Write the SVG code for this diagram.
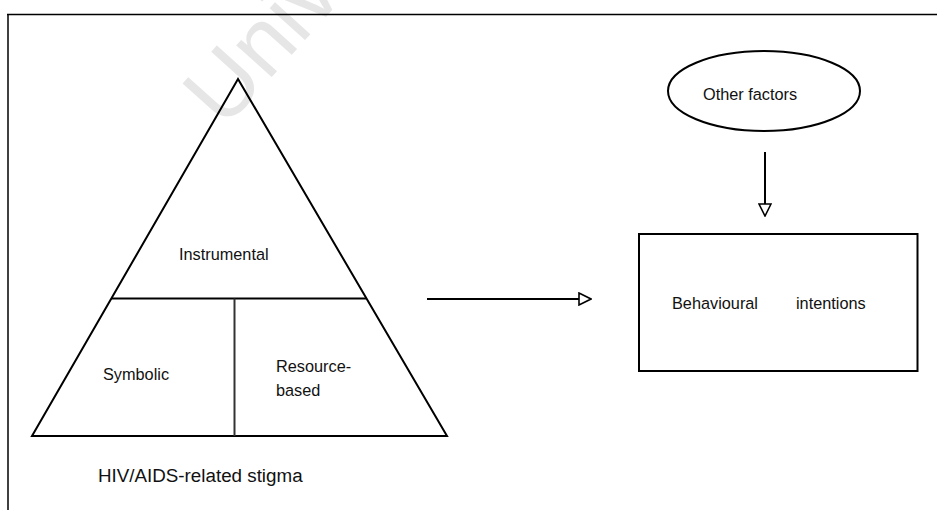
<svg xmlns="http://www.w3.org/2000/svg" width="937" height="510" viewBox="0 0 937 510">
<style>
  .ln { stroke: #000; stroke-width: 2; fill: none; }
  .dv { stroke: #333; stroke-width: 2; fill: none; }
  .frame { stroke: #000; stroke-width: 1.5; fill: none; }
  .lbl { font-family: "Liberation Sans", Arial, sans-serif; font-size: 16.3px; fill: #111; }
  .cap { font-family: "Liberation Sans", Arial, sans-serif; font-size: 18.8px; fill: #111; }
  .wm { font-family: "Liberation Sans", Arial, sans-serif; font-size: 90px; fill: #e6e6e6; }
</style>
<defs>
  <marker id="open" markerUnits="userSpaceOnUse" markerWidth="14" markerHeight="14" refX="1" refY="7" orient="auto" viewBox="0 0 14 14">
    <path d="M1,1 L13,7 L1,13 Z" fill="#fff" stroke="#000" stroke-width="1.6"/>
  </marker>
</defs>
<rect width="937" height="510" fill="#fff"/>
<text class="wm" transform="translate(224,130) rotate(-48)">Univ</text>
<g id="frame">
  <line class="frame" x1="7" y1="14.5" x2="937" y2="14.5"/>
  <line class="frame" x1="8" y1="14" x2="8" y2="510"/>
</g>
<g id="stigma-pyramid">
  <polygon class="ln" points="238,79 32,436 447,436" stroke-linejoin="miter"/>
  <line class="ln" x1="111" y1="298.5" x2="366" y2="298.5"/>
  <line class="dv" x1="234.5" y1="298.5" x2="234.5" y2="436"/>
  <text class="lbl" x="179" y="260">Instrumental</text>
  <text class="lbl" x="103" y="380">Symbolic</text>
  <text class="lbl" x="276" y="372">Resource-</text>
  <text class="lbl" x="276" y="396">based</text>
</g>
<g id="caption">
  <text class="cap" x="98" y="482">HIV/AIDS-related stigma</text>
</g>
<g id="other-factors">
  <ellipse class="ln" cx="764" cy="91" rx="96" ry="40" stroke-width="1.5"/>
  <text class="lbl" x="703" y="100">Other factors</text>
</g>
<g id="behavioural-intentions">
  <rect class="ln" x="639" y="234" width="278.5" height="137" stroke-width="1.5"/>
  <text class="lbl" x="672" y="309">Behavioural</text>
  <text class="lbl" x="796" y="309">intentions</text>
</g>
<g id="connectors">
  <line class="ln" x1="427" y1="299" x2="579" y2="299" marker-end="url(#open)"/>
  <line class="ln" x1="765" y1="152" x2="765" y2="204" marker-end="url(#open)"/>
</g>
</svg>
